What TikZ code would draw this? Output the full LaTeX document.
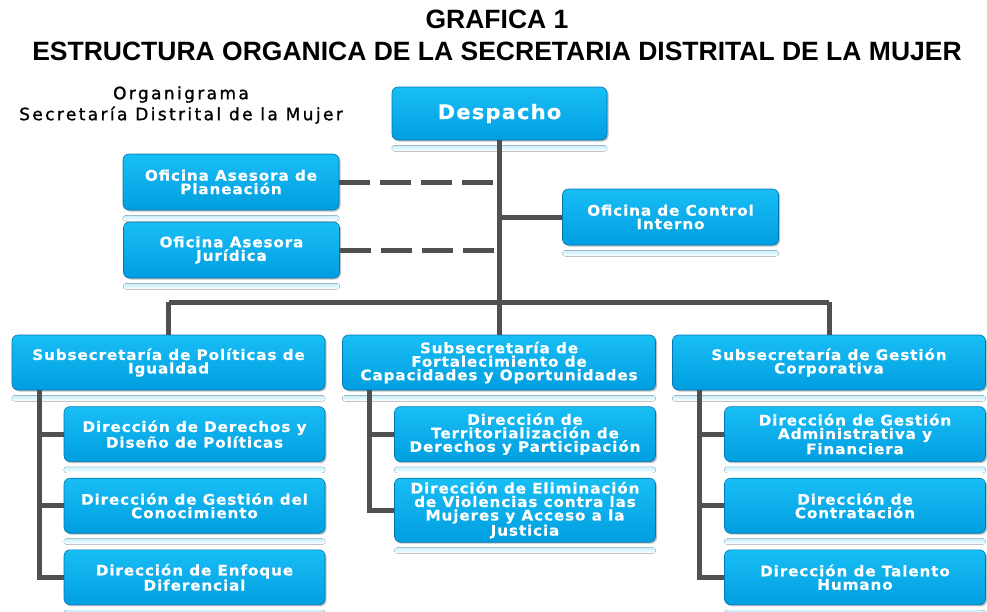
\documentclass[tikz,border=0pt]{standalone}
\usepackage{fontspec}
\setmainfont{Liberation Sans}
\newfontfamily\boxfont{DejaVu Sans}[LetterSpace=6, FakeStretch=1.05, FakeBold=0.4]
\newfontfamily\capfont{DejaVu Sans}[LetterSpace=14, FakeBold=1.2]
\usetikzlibrary{%
    calc,
    positioning,
    shadows
}
\definecolor{boxtop}{RGB}{25,190,245}
\definecolor{boxbot}{RGB}{0,158,224}
\definecolor{boxedge}{RGB}{0,118,178}
\definecolor{linegray}{RGB}{80,80,80}
\tikzset{
    unitbox/.style = {rounded corners=6pt, top color=boxtop, bottom color=boxbot,
        draw=boxedge, line width=.6pt, text=white, align=center, inner sep=2pt,
        drop shadow={shadow xshift=1.5pt, shadow yshift=-1.5pt, fill=black!50, opacity=.5}},
    smallbox/.style = {unitbox, minimum width=216pt, minimum height=56pt,
        font=\boxfont\bfseries\fontsize{14.5}{13.5}\selectfont},
    subbox/.style = {unitbox, minimum width=313pt, minimum height=55pt,
        font=\boxfont\bfseries\fontsize{14.5}{13.5}\selectfont},
    dirbox/.style = {unitbox, minimum width=261pt, minimum height=55pt,
        font=\boxfont\bfseries\fontsize{14.5}{13.5}\selectfont},
    reflect/.style = {rounded corners=3pt, top color=boxtop!25, bottom color=white},
    conn/.style = {draw=linegray, line width=5pt},
    conndash/.style = {conn, dash pattern=on 31pt off 10pt}
}

\begin{document}
\begin{tikzpicture}[x=1pt, y=-1pt]
    \useasboundingbox (0,0) rectangle (987,611);

    \node[font=\bfseries\fontsize{26.5}{26.5}\selectfont] (grafica) at (497,19) {GRAFICA 1};
    \node[font=\bfseries\fontsize{26.5}{26.5}\selectfont] (estructura) at (497,51)
        {ESTRUCTURA ORGANICA DE LA SECRETARIA DISTRITAL DE LA MUJER};
    \node[font=\capfont\fontsize{17}{21}\selectfont, align=center] (organigrama) at (181,105)
        {Organigrama\\Secretaría Distrital de la Mujer};

    \node[unitbox, minimum width=215pt, minimum height=53pt,
        font=\boxfont\bfseries\fontsize{20}{20}\selectfont] (despacho) at (499.5,113.5) {Despacho};
    \node[smallbox] (planeacion) at (231,182) {Oficina Asesora de\\Planeación};
    \node[smallbox] (juridica) at (231.5,250) {Oficina Asesora\\Jurídica};
    \node[smallbox] (control) at (670.5,217) {Oficina de Control\\Interno};

    \node[subbox] (subpol) at (168.5,362.5) {Subsecretaría de Políticas de\\Igualdad};
    \node[subbox] (subfort) at (499,362.5)
        {Subsecretaría de\\Fortalecimiento de\\Capacidades y Oportunidades};
    \node[subbox] (subgest) at (829,362.5) {Subsecretaría de Gestión\\Corporativa};

    \node[dirbox] (dirder) [below left=16pt and 0pt of subpol.south east]
        {Dirección de Derechos y\\Diseño de Políticas};
    \node[dirbox] (dirgc) [below=16pt of dirder] {Dirección de Gestión del\\Conocimiento};
    \node[dirbox] (direnf) [below=16pt of dirgc] {Dirección de Enfoque\\Diferencial};

    \node[dirbox] (dirterr) [below left=16pt and 0pt of subfort.south east]
        {Dirección de\\Territorialización de\\Derechos y Participación};
    \node[dirbox, minimum height=64pt] (direlim) [below=16pt of dirterr]
        {Dirección de Eliminación\\de Violencias contra las\\Mujeres y Acceso a la\\Justicia};

    \node[dirbox] (diradm) [below left=16pt and 0pt of subgest.south east]
        {Dirección de Gestión\\Administrativa y\\Financiera};
    \node[dirbox] (dircont) [below=16pt of diradm] {Dirección de\\Contratación};
    \node[dirbox] (dirtal) [below=16pt of dircont] {Dirección de Talento\\Humano};

    \foreach \n in {despacho,planeacion,juridica,control,subpol,subfort,subgest,
        dirder,dirgc,direnf,dirterr,direlim,diradm,dircont,dirtal}
    \fill[reflect] ([yshift=-5pt]\n.south west) rectangle ([yshift=-11pt]\n.south east);

    \coordinate (bus) at (499,302);
    \draw[conn] (despacho.south) -- (despacho.south |- bus);
    \draw[conn] (subpol.north |- bus) -- (subgest.north |- bus);
    \foreach \n in {subpol,subfort,subgest}
    \draw[conn] (\n.north |- bus) -- (\n.north);
    \draw[conndash] (planeacion.east) -- (planeacion.east -| despacho.south);
    \draw[conndash] (juridica.east) -- (juridica.east -| despacho.south);
    \draw[conn] (control.west) -- (control.west -| despacho.south);

    \coordinate (polstem) at ([xshift=28pt]subpol.south west);
    \coordinate (fortstem) at ([xshift=27pt]subfort.south west);
    \coordinate (geststem) at ([xshift=27pt]subgest.south west);
    \draw[conn] (polstem) |- (direnf.west);
    \draw[conn] (fortstem) |- (direlim.west);
    \draw[conn] (geststem) |- (dirtal.west);
    \foreach \n/\s in {dirder/polstem,dirgc/polstem,dirterr/fortstem,diradm/geststem,dircont/geststem}
    \draw[conn] (\s |- \n.west) -- (\n.west);
\end{tikzpicture}
\end{document}
